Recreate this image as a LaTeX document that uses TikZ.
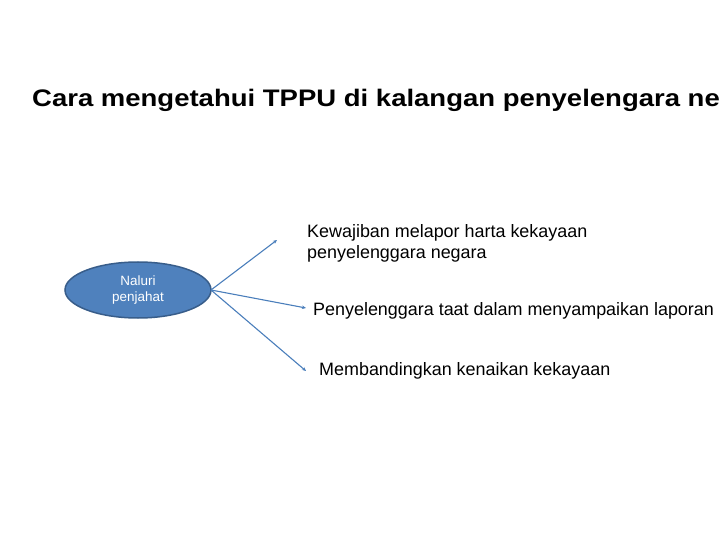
\documentclass[tikz,border=0pt]{standalone}
\usepackage{fontspec}
\setmainfont{Liberation Sans}
\newfontfamily\titlefont[FakeStretch=1.15]{Liberation Sans}
\usetikzlibrary{arrows.meta,shapes.geometric}
\definecolor{ellfill}{HTML}{4F81BD}
\definecolor{elldraw}{HTML}{385D8A}
\definecolor{arrowcol}{HTML}{4A7EBB}
\tikzset{
  conn/.style={draw=arrowcol, line width=1.1bp, -{Stealth[length=4bp,width=3.5bp]}},
  lbl/.style={anchor=base west, inner sep=0pt, font=\fontsize{18}{21}\selectfont, align=left},
}
\begin{document}
\begin{tikzpicture}[x=1bp,y=1bp]
\useasboundingbox (0,0) rectangle (720,-540);
\clip (0,0) rectangle (720,-540);
\node[anchor=base west, inner sep=0pt, font=\titlefont\fontsize{24}{29}\bfseries] (title) at (32,-107) {Cara mengetahui TPPU di kalangan penyelengara negara};
\node[ellipse, draw=elldraw, line width=1.5bp, fill=ellfill, minimum width=146bp, minimum height=56bp, text=white, align=center, font=\fontsize{13.5}{17}\selectfont] (n) at (138,-290) {Naluri\\penjahat};
\node[lbl] (k) at (307,-258.5) {Kewajiban melapor harta kekayaan\\penyelenggara negara};
\node[lbl] (p) at (313,-315) {Penyelenggara taat dalam menyampaikan laporan};
\node[lbl] (m) at (319,-375) {Membandingkan kenaikan kekayaan};
\coordinate (ek) at (277,-240);
\coordinate (ep) at (306,-308);
\coordinate (em) at (306,-371);
\coordinate (s) at (211,-290);
\draw[conn] (s) -- (ek);
\draw[conn] (s) -- (ep);
\draw[conn] (s) -- (em);
\end{tikzpicture}
\end{document}
